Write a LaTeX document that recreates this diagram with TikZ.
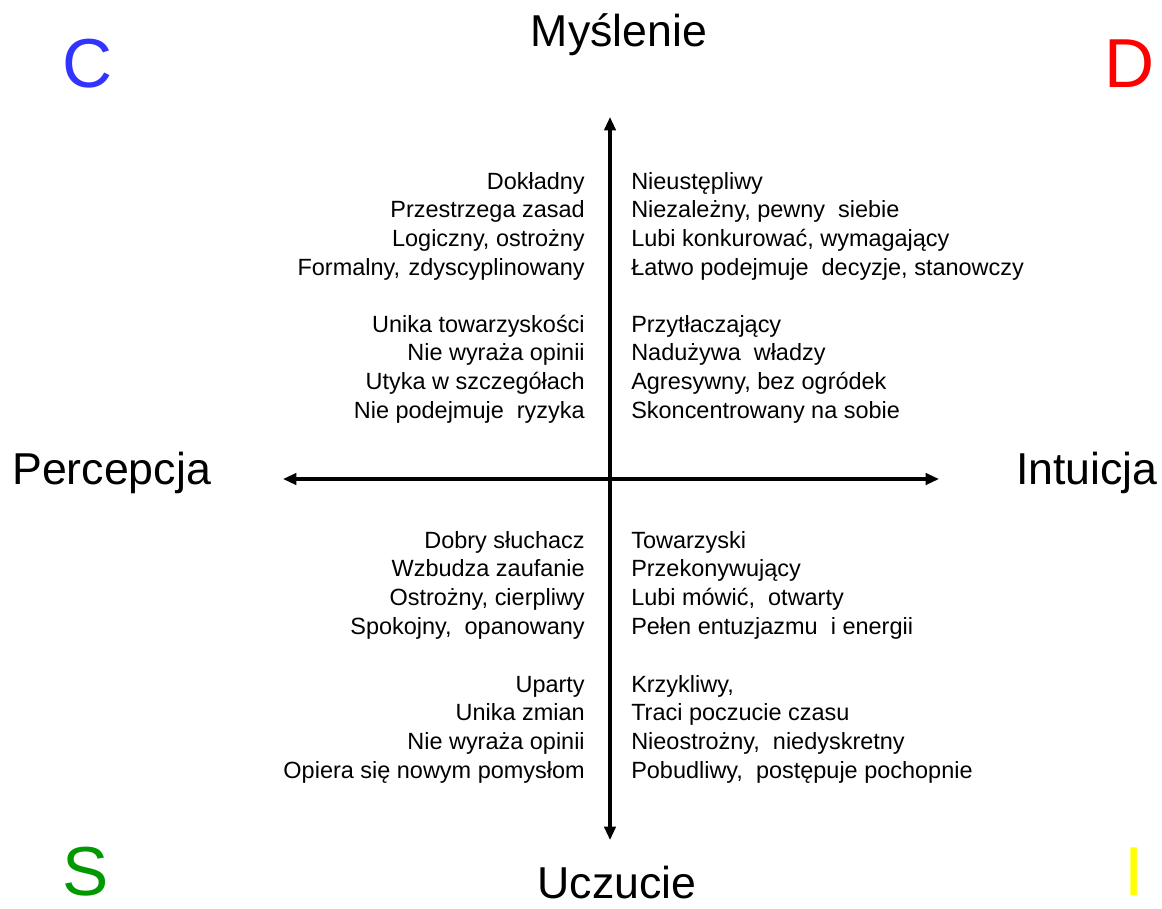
\documentclass[tikz,border=0pt]{standalone}
\usepackage{fontspec}
\setmainfont{Liberation Sans}
\usepackage{xcolor}
\usetikzlibrary{arrows.meta, positioning}

\definecolor{discC}{RGB}{51,51,255}
\definecolor{discD}{RGB}{255,0,0}
\definecolor{discS}{RGB}{0,153,0}
\definecolor{discI}{RGB}{255,255,0}

\begin{document}
\begin{tikzpicture}[
    x=0.75pt, y=-0.75pt,
    axis/.style={{Triangle[length=10pt, width=8.5pt]}-{Triangle[length=10pt, width=8.5pt]},
                 line width=2.3pt},
    pole/.style={font=\fontsize{33.5}{40}\selectfont, inner sep=0pt},
    corner/.style={font=\fontsize{52}{60}\selectfont, inner sep=0pt},
    traitL/.style={font=\fontsize{17.6}{21.45}\selectfont, align=right,
                   anchor=base east, inner sep=0pt},
    traitR/.style={font=\fontsize{17.6}{21.45}\selectfont, align=left,
                   anchor=base west, inner sep=0pt},
]
\useasboundingbox (0,0) rectangle (1162,908);

% ── Axes ──
\coordinate (top) at (610,117);
\coordinate (bottom) at (610,840);
\coordinate (left) at (283,479);
\coordinate (right) at (939,479);
\draw[axis] (bottom) -- (top);
\draw[axis] (left) -- (right);

% ── Poles ──
\node[pole] (think) at (619,35) {Myślenie};
\node[pole] (feel) at (617,883) {Uczucie};
\node[pole, anchor=west] (perc) at (12,473) {Percepcja};
\node[pole, anchor=east] (intu) at (1158,473) {Intuicja};

% ── Corner letters ──
\node[corner, text=discC] (cC) at (88,64) {C};
\node[corner, text=discD] (cD) at (1130,64) {D};
\node[corner, text=discS] (cS) at (86,872) {S};
\node[corner, text=discI] (cI) at (1134,872) {I};

% ── C: upper left ──
\node[traitL] (c1) at (585,275)
  {Dokładny\\Przestrzega zasad\\Logiczny, ostrożny\\Formalny,\hspace{1.5pt} zdyscyplinowany};
\node[traitL] (c2) at (585,418)
  {Unika towarzyskości\\Nie wyraża opinii\\Utyka w szczegółach\\Nie podejmuje\ \ ryzyka};

% ── D: upper right ──
\node[traitR] (d1) at (631,275)
  {Nieustępliwy\\Niezależny, pewny\ \ siebie\\Lubi konkurować, wymagający\\Łatwo podejmuje\ \ decyzje, stanowczy};
\node[traitR] (d2) at (631,418)
  {Przytłaczający\\Nadużywa\ \ władzy\\Agresywny, bez ogródek\\Skoncentrowany na sobie};

% ── S: lower left ──
\node[traitL] (s1) at (585,634)
  {Dobry słuchacz\\Wzbudza zaufanie\\Ostrożny, cierpliwy\\Spokojny,\ \ opanowany};
\node[traitL] (s2) at (585,778)
  {Uparty\\Unika zmian\\Nie wyraża opinii\\Opiera się nowym pomysłom};

% ── I: lower right ──
\node[traitR] (i1) at (631,634)
  {Towarzyski\\Przekonywujący\\Lubi mówić,\ \ otwarty\\Pełen entuzjazmu\ \ i energii};
\node[traitR] (i2) at (631,778)
  {Krzykliwy,\\Traci poczucie czasu\\Nieostrożny,\ \ niedyskretny\\Pobudliwy,\ \ postępuje pochopnie};

\end{tikzpicture}
\end{document}
